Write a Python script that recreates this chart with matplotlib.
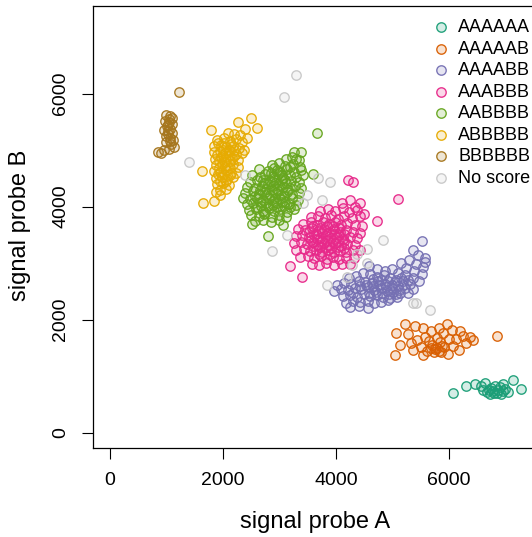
import matplotlib
matplotlib.use("Agg")
import matplotlib.pyplot as plt
from matplotlib.colors import to_rgba

plt.rcParams['font.family'] = ['Liberation Sans', 'DejaVu Sans']

# genotype groups and their colours (Dark2 + light grey)
groups = ['AAAAAA', 'AAAAAB', 'AAAABB', 'AAABBB', 'AABBBB', 'ABBBBB', 'BBBBBB', 'No score']
colors = ['#1B9E77', '#D95F02', '#7570B3', '#E7298A', '#66A61E', '#E6AB02', '#A6761D', '#C8C8C8']

# signal values (probe A, probe B)
aaaaaa_a = [6070, 6300, 6460, 6640, 6820, 6960, 7130, 7280, 6600, 6680, 6750, 6800, 6870, 6930, 6990, 7050, 6720, 6560, 6900,
            6700, 6780, 6850, 6950]
aaaaaa_b = [700, 830, 870, 880, 830, 860, 930, 770, 760, 720, 790, 700, 750, 690, 780, 720, 680, 830, 810,
            760, 740, 700, 740]

aaaaab_a = [5220, 5060, 5130, 5040, 5400, 5540, 5680, 5580, 5440, 5320, 5360, 5500, 5650, 5780, 5900, 5960, 5820, 6050, 6190,
            6000, 6130, 6250, 6380, 6430, 6300, 5730, 5790, 5860, 5700, 5620, 5920, 6080, 5540, 6170, 6850, 5990, 5840, 5270,
            5750, 5820, 5880, 5680]
aaaaab_b = [1930, 1760, 1560, 1370, 1880, 1850, 1800, 1700, 1640, 1580, 1470, 1520, 1620, 1680, 1760, 1930, 1860, 1820, 1800,
            1650, 1660, 1720, 1700, 1640, 1580, 1430, 1500, 1420, 1560, 1450, 1520, 1530, 1380, 1460, 1710, 1400, 1600, 1750,
            1480, 1450, 1540, 1500]

aaaabb_a = [5520, 5360, 5570, 5450, 5300, 5420, 5540, 5150, 5240, 5380, 5520,
            4580, 4720, 4860, 5000, 5100, 5230, 5360, 5470,
            4230, 4360, 4480, 4610, 4730, 4850, 4960, 5070, 5180, 5310,
            4020, 4140, 4270, 4400, 4520, 4640, 4750, 4870, 4990, 5100, 5230, 5360,
            3970, 4090, 4210, 4330, 4450, 4560, 4680, 4790, 4900, 5010, 5140, 5280,
            4120, 4250, 4370, 4490, 4600, 4720, 4830, 4950, 5080,
            4180, 4310, 4430, 4560, 4680, 4800, 4920, 4240, 4400, 4560, 5580,
            4530, 4650, 4760, 4880, 5000, 5120, 4580, 4700, 4820, 4940, 5060, 5190,
            4660, 4800, 4920, 5040, 5160, 5270, 4420, 4300]
aaaabb_b = [3400, 3230, 3090, 3150, 3060, 2980, 2930, 3000, 2920, 2860, 2800,
            2950, 2900, 2870, 2900, 2830, 2790, 2740, 2690,
            2740, 2780, 2820, 2800, 2760, 2790, 2740, 2700, 2680, 2640,
            2610, 2650, 2640, 2680, 2670, 2650, 2690, 2640, 2620, 2590, 2560, 2550,
            2510, 2540, 2520, 2560, 2540, 2570, 2530, 2560, 2510, 2490, 2470, 2480,
            2420, 2440, 2410, 2450, 2420, 2440, 2400, 2380, 2410,
            2300, 2330, 2310, 2330, 2300, 2320, 2350, 2220, 2240, 2210, 3020,
            2610, 2590, 2620, 2580, 2560, 2530, 2480, 2490, 2470, 2450, 2460, 2610,
            2720, 2710, 2690, 2660, 2740, 2700, 2600, 2480]

aaabbb_a = [4100, 4250, 4420, 4330,
            3720, 3860, 3990, 4120, 4230, 4380, 4490,
            3560, 3680, 3800, 3920, 4030, 4150, 4280, 4420,
            3420, 3550, 3660, 3770, 3880, 3980, 4090, 4200, 4330, 4460,
            3330, 3460, 3580, 3680, 3780, 3880, 3970, 4070, 4180, 4300, 4430,
            3290, 3400, 3520, 3620, 3720, 3820, 3910, 4020, 4120, 4240, 4370,
            3260, 3380, 3490, 3590, 3690, 3790, 3880, 3990, 4090, 4200, 4330,
            3300, 3430, 3540, 3650, 3750, 3860, 3960, 4070, 4180, 4300, 4420,
            3370, 3500, 3620, 3730, 3840, 3950, 4060, 4170, 4320,
            3580, 3700, 3830, 3960, 4100, 4250,
            3190, 3400, 4210, 4300, 5100, 4730,
            3600, 3720, 3840, 3950, 4060, 3520, 3640, 3760, 3850, 3960, 4060, 4150,
            3560, 3660, 3760, 3850, 3940, 4040, 4150, 3600, 3720, 3820, 3920, 4030, 4140, 3700, 3900]
aaabbb_b = [4060, 4120, 4070, 3990,
            3930, 3960, 3920, 3970, 3910, 3940, 3870,
            3820, 3840, 3800, 3850, 3790, 3830, 3800, 3830,
            3700, 3720, 3680, 3730, 3690, 3720, 3670, 3710, 3680, 3650,
            3600, 3580, 3620, 3570, 3610, 3560, 3600, 3550, 3590, 3560, 3540,
            3480, 3500, 3460, 3490, 3450, 3480, 3440, 3470, 3430, 3460, 3440,
            3350, 3380, 3340, 3370, 3330, 3360, 3320, 3350, 3310, 3340, 3320,
            3230, 3250, 3210, 3240, 3200, 3230, 3190, 3220, 3190, 3230, 3240,
            3110, 3130, 3090, 3120, 3080, 3110, 3070, 3100, 3090,
            2990, 2970, 3000, 2960, 2990, 2980,
            2950, 2750, 4470, 4430, 4130, 3750,
            3650, 3620, 3650, 3660, 3620, 3550, 3520, 3530, 3510, 3520, 3500, 3510,
            3410, 3420, 3400, 3410, 3390, 3400, 3390, 3300, 3280, 3290, 3270, 3280, 3260, 3170, 3160]

aabbbb_a = [3250, 3390, 3110, 3230, 3350,
            2860, 2990, 3090, 3240, 3370,
            2640, 2790, 2910, 3010, 3130, 3260, 3390,
            2520, 2650, 2750, 2890, 2970, 3070, 3180, 3300, 3420,
            2470, 2610, 2720, 2830, 2930, 3020, 3120, 3200, 3340,
            2420, 2570, 2690, 2770, 2880, 2950, 3060, 3150, 3270, 3380,
            2390, 2530, 2630, 2750, 2840, 2940, 3020, 3130, 3230, 3350,
            2350, 2470, 2610, 2700, 2820, 2890, 3010, 3090, 3220, 3320,
            2430, 2540, 2680, 2760, 2880, 2960, 3080, 3170, 3300,
            2460, 2590, 2700, 2810, 2910, 3010, 3130, 3260,
            2500, 2630, 2730, 2870, 2990, 3110,
            2560, 2710, 2850, 3000,
            2510, 2800, 3060, 3590, 3660,
            2700, 2800, 2900, 3000, 3100, 2660, 2760, 2860, 2980, 3080, 3190, 2560, 2660,
            2790, 2930, 3040, 2600, 2740, 2950, 3180, 2850, 2950, 3050, 3180, 3300]
aabbbb_b = [4960, 4970, 4840, 4880, 4820,
            4730, 4770, 4720, 4760, 4700,
            4660, 4630, 4680, 4610, 4670, 4620, 4640,
            4560, 4530, 4580, 4540, 4570, 4510, 4560, 4530, 4560,
            4440, 4470, 4420, 4460, 4410, 4470, 4420, 4460, 4430,
            4350, 4330, 4370, 4320, 4360, 4310, 4350, 4300, 4370, 4330,
            4240, 4270, 4220, 4260, 4210, 4250, 4200, 4260, 4220, 4250,
            4160, 4130, 4160, 4110, 4150, 4100, 4140, 4090, 4150, 4120,
            4040, 4060, 4020, 4070, 4030, 4060, 4010, 4050, 4030,
            3940, 3960, 3920, 3970, 3930, 3960, 3910, 3950,
            3850, 3830, 3870, 3820, 3860, 3810,
            3740, 3760, 3720, 3760,
            3690, 3480, 3670, 4580, 5300,
            4480, 4400, 4470, 4390, 4480, 4300, 4200, 4300, 4280, 4180, 4330, 4190, 4090,
            4010, 4160, 4080, 3990, 3890, 4000, 4000, 4600, 4640, 4560, 4700, 4850]

abbbbb_a = [2500, 2600, 2270, 1790, 2390,
            2090, 2200, 2300, 2420,
            1900, 2010, 2120, 2230, 2340,
            1850, 1960, 2060, 2170, 2280, 2380,
            1840, 1940, 2040, 2130, 2230, 2340,
            1860, 1960, 2060, 2160, 2260,
            1880, 1980, 2080, 2180, 2270,
            1850, 1950, 2050, 2150, 2230, 1630,
            1880, 1980, 2080, 2180,
            1900, 2000, 2100,
            1950, 2050, 1880, 1650, 1840, 1950,
            1910, 2020, 2140, 2000, 2100, 2200, 1900, 2000, 2100, 2190, 1930,
            2030, 2120, 1930, 2030, 2130, 1920, 2020, 2120, 1950, 2050]
abbbbb_b = [5570, 5390, 5500, 5360, 5370,
            5310, 5280, 5260, 5220,
            5180, 5210, 5170, 5190, 5140,
            5070, 5090, 5050, 5080, 5040, 5000,
            4960, 4990, 4950, 4980, 4930, 4950,
            4850, 4870, 4830, 4860, 4820,
            4740, 4760, 4720, 4750, 4700,
            4630, 4610, 4650, 4600, 4590, 4630,
            4510, 4530, 4490, 4520,
            4400, 4420, 4380,
            4290, 4310, 4260, 4060, 4100, 4210,
            5120, 5130, 5110, 5010, 5000, 5010, 4910, 4900, 4910, 4900, 4800,
            4790, 4800, 4690, 4700, 4680, 4570, 4570, 4560, 4460, 4450]

bbbbbb_a = [1221, 1000, 1060, 1100, 980, 1040, 1090, 1010, 1070, 960, 1030, 1100,
            990, 1060, 1120, 1000, 1080, 1130, 1040, 960, 900, 850,
            1030, 1050, 1020, 1070]
bbbbbb_b = [6023, 5620, 5600, 5560, 5520, 5500, 5470, 5420, 5380, 5350, 5330, 5300,
            5250, 5220, 5180, 5140, 5100, 5060, 5020, 5000, 4950, 4960,
            5450, 5550, 5280, 5160]

noscore_a = [3290, 3080, 1400, 2390, 3680, 3890, 3490, 3410, 3750, 3130, 2870,
             4830, 4550, 4370, 4550, 4280, 4190, 3840, 5360, 5420, 5660]
noscore_b = [6330, 5940, 4790, 4560, 4500, 4440, 4200, 4070, 4120, 3500, 3220,
             3410, 3250, 3160, 3000, 2970, 2750, 2610, 2290, 2300, 2170]

xs = [aaaaaa_a, aaaaab_a, aaaabb_a, aaabbb_a, aabbbb_a, abbbbb_a, bbbbbb_a, noscore_a]
ys = [aaaaaa_b, aaaaab_b, aaaabb_b, aaabbb_b, aabbbb_b, abbbbb_b, bbbbbb_b, noscore_b]

fig = plt.figure(figsize=(5.32, 5.37), dpi=100)
# axes run a bit past the right edge of the picture, like the original
ax = fig.add_axes([93 / 532, 89 / 537, 452 / 532, 442 / 537])

handles = []
for name, col, x, y in zip(groups, colors, xs, ys):
    h = ax.scatter(x, y, s=46, facecolor=to_rgba(col, 0.18), edgecolor=to_rgba(col, 0.95),
                   linewidths=1.0, label=name)
    handles.append(h)

ax.set_xlim(-300, 7700)
ax.set_ylim(-270, 7550)
ax.set_xticks([0, 2000, 4000, 6000])
ax.set_yticks([0, 2000, 4000, 6000])
ax.tick_params(length=8, width=0.8, labelsize=14, pad=9)
ax.tick_params(axis='y', labelrotation=90)
for lbl in ax.get_yticklabels():
    lbl.set_va('center')
for sp in ax.spines.values():
    sp.set_linewidth(0.9)

ax.set_xlabel('signal probe A', fontsize=17, va='center')
ax.xaxis.set_label_coords(0.491, -0.167)
ax.set_ylabel('signal probe B', fontsize=17, va='center')
ax.yaxis.set_label_coords(-0.1615, 0.5045)

ax.legend(handles=handles, loc='upper left', bbox_to_anchor=(434 / 532, 1 - 19 / 537),
          bbox_transform=fig.transFigure, frameon=False, fontsize=13, scatterpoints=1,
          handlelength=0.8, handletextpad=0.55, labelspacing=0.25, borderpad=0, borderaxespad=0)

fig.savefig('out.png', dpi=100)
